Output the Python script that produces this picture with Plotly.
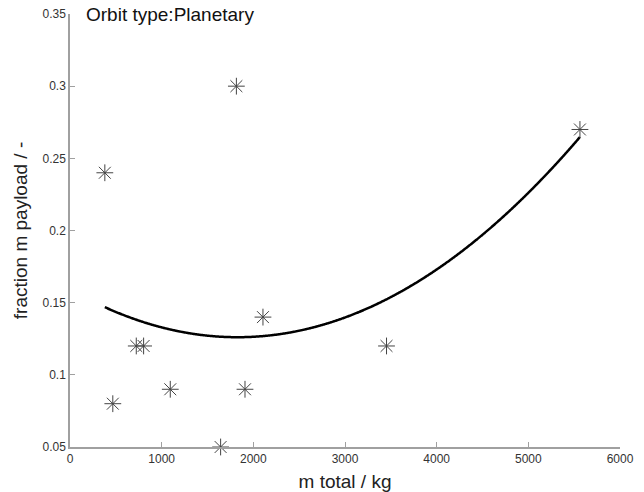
import numpy as np
import plotly.graph_objects as go

m_total = [380, 467, 723, 803, 1094, 1643, 1815, 1909, 2105, 3453, 5563]
fraction_payload = [0.24, 0.08, 0.12, 0.12, 0.09, 0.05, 0.30, 0.09, 0.14, 0.12, 0.27]

x_ticks = [0, 1000, 2000, 3000, 4000, 5000, 6000]
x_ticklabels = ["0", "1000", "2000", "3000", "4000", "5000", "6000"]
y_ticks = [0.05, 0.1, 0.15, 0.2, 0.25, 0.3, 0.35]
y_ticklabels = ["0.05", "0.1", "0.15", "0.2", "0.25", "0.3", "0.35"]

coef = np.polyfit(m_total, fraction_payload, 2)
fit_x = np.linspace(min(m_total), max(m_total), 400)
fit_y = np.polyval(coef, fit_x)

fig = go.Figure()
fig.add_trace(go.Scatter(x=fit_x, y=fit_y, mode="lines",
                         line=dict(color="black", width=2.5, shape="spline"),
                         showlegend=False))
fig.add_trace(go.Scatter(x=m_total, y=fraction_payload, mode="markers",
                         cliponaxis=False,
                         marker=dict(symbol="asterisk-open", size=14, color="#444444",
                                     line=dict(color="#444444", width=1)),
                         showlegend=False))

axis_common = dict(showgrid=False, zeroline=False, showline=True, linecolor="#a0a0a0",
                   linewidth=1.5, ticks="inside", ticklen=5, tickcolor="#a0a0a0",
                   automargin=False,
                   tickfont=dict(family="Liberation Sans", size=12, color="#333333"))
fig.update_layout(
    width=644, height=492,
    margin=dict(l=70, r=24, t=14, b=45),
    plot_bgcolor="white", paper_bgcolor="white",
    xaxis=dict(range=[0, 6000], tickvals=x_ticks, ticktext=x_ticklabels,
               title=dict(text="m total / kg", standoff=10,
                          font=dict(family="Liberation Sans", size=19, color="#222222")),
               **axis_common),
    yaxis=dict(range=[0.05, 0.35], tickvals=y_ticks, ticktext=y_ticklabels,
               title=dict(text="fraction m payload / -", standoff=10,
                          font=dict(family="Liberation Sans", size=19, color="#222222")),
               **axis_common),
    annotations=[dict(text="Orbit type:Planetary", xref="paper", yref="paper",
                      x=0.025, y=1.0, xanchor="left", yanchor="middle", showarrow=False,
                      font=dict(family="Liberation Sans", size=19, color="#111111"))],
)
fig.write_html("out.html")
